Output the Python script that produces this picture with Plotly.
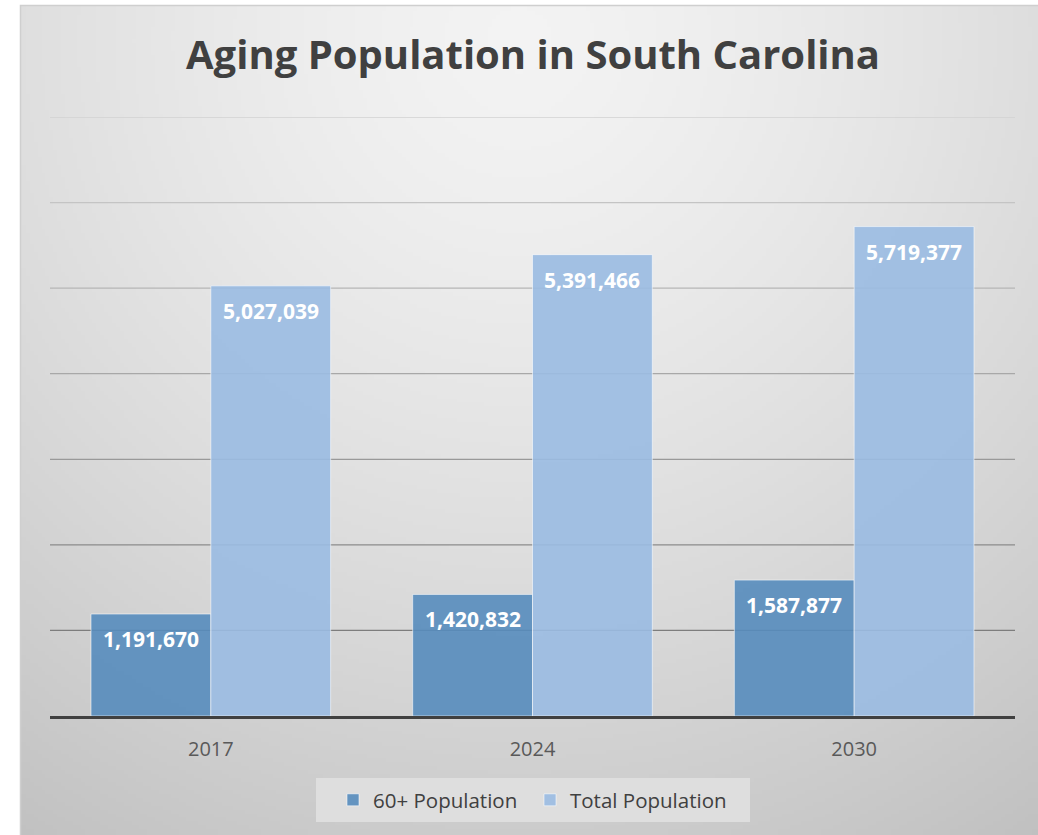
import base64, struct, zlib, math
import plotly.graph_objects as go

# ---- data ----
years = ["2017", "2024", "2030"]
pop_60_plus = [1191670, 1420832, 1587877]
pop_total = [5027039, 5391466, 5719377]
series_names = ["60+ Population", "Total Population"]

# ---- figure geometry ----
W, H = 1038, 835
L = 50
T = 117
B = H - 716
R = W - 1015
plot_w = W - L - R
plot_h = H - T - B
bargap = 0.255


def px_to_paper_x(px):
    return (px - L) / plot_w


def px_to_paper_y(py):
    return (H - B - py) / plot_h


# ---- gradient background image (pure python PNG) ----
def make_gradient_png(iw=260, ih=210):
    cx, cy = 519.0, 40.0
    x0, y0, x1, y1 = 20.0, 5.0, 1038.0, 835.0
    dmax = 938.0
    rows = []
    for j in range(ih):
        py = y0 + (j + 0.5) * (y1 - y0) / ih
        row = bytearray([0])
        for i in range(iw):
            px = x0 + (i + 0.5) * (x1 - x0) / iw
            d = math.hypot(px - cx, py - cy) / dmax
            v = 243 - 50 * (d ** 1.4)
            v = max(0, min(255, int(round(v))))
            row.append(v)
        rows.append(bytes(row))
    raw = b"".join(rows)

    def chunk(tag, data):
        c = struct.pack(">I", len(data)) + tag + data
        return c + struct.pack(">I", zlib.crc32(tag + data) & 0xFFFFFFFF)

    png = b"\x89PNG\r\n\x1a\n"
    png += chunk(b"IHDR", struct.pack(">IIBBBBB", iw, ih, 8, 0, 0, 0, 0))
    png += chunk(b"IDAT", zlib.compress(raw, 9))
    png += chunk(b"IEND", b"")
    return "data:image/png;base64," + base64.b64encode(png).decode()


bg_src = make_gradient_png()

fig = go.Figure()

fig.add_trace(go.Bar(
    x=years, y=pop_60_plus, name=series_names[0],
    marker=dict(color="rgba(86,140,189,0.9)",
                line=dict(color="rgba(255,255,255,0.55)", width=1)),
    hoverinfo="x+y",
))
fig.add_trace(go.Bar(
    x=years, y=pop_total, name=series_names[1],
    marker=dict(color="rgba(154,187,226,0.9)",
                line=dict(color="rgba(255,255,255,0.55)", width=1)),
    hoverinfo="x+y",
))

# data labels as annotations placed via the axis scales
annotations = []
for k, vals in enumerate([pop_60_plus, pop_total]):
    off = (k - 0.5) * (1 - bargap) / 2
    for i, v in enumerate(vals):
        annotations.append(dict(
            x=i + off, y=v, xref="x", yref="y",
            text=f"{v:,}", showarrow=False,
            yanchor="middle", yshift=-25,
            font=dict(family="Open Sans", size=21, color="white", weight="bold"),
        ))

# gridlines with a top-to-bottom fading colour
grid_levels = [1e6 * n for n in range(1, 8)]
shapes = []
for n, g in enumerate(grid_levels):
    t = n / (len(grid_levels) - 1)
    c = int(round(125 + t * (210 - 125)))
    shapes.append(dict(
        type="line", xref="paper", yref="y", x0=0, x1=1, y0=g, y1=g,
        line=dict(color=f"rgb({c},{c},{c})", width=1.3), layer="below",
    ))

# white page strips (left and top) outside the chart area
shapes.append(dict(
    type="rect", xref="paper", yref="paper",
    x0=px_to_paper_x(-10), x1=px_to_paper_x(20), y0=px_to_paper_y(860), y1=px_to_paper_y(-10),
    line=dict(width=0), fillcolor="white", layer="below",
))
shapes.append(dict(
    type="rect", xref="paper", yref="paper",
    x0=px_to_paper_x(-10), x1=px_to_paper_x(1060), y0=px_to_paper_y(5), y1=px_to_paper_y(-10),
    line=dict(width=0), fillcolor="white", layer="below",
))
# outer chart border
shapes.append(dict(
    type="rect", xref="paper", yref="paper",
    x0=px_to_paper_x(20.5), x1=px_to_paper_x(1060), y0=px_to_paper_y(860), y1=px_to_paper_y(5.5),
    line=dict(color="#cfcfcf", width=1.5), fillcolor="rgba(0,0,0,0)", layer="below",
))
# legend box
shapes.append(dict(
    type="rect", xref="paper", yref="paper",
    x0=px_to_paper_x(316), x1=px_to_paper_x(750), y0=px_to_paper_y(822), y1=px_to_paper_y(778),
    line=dict(width=0), fillcolor="#dedede", layer="below",
))

fig.update_layout(
    width=W, height=H,
    margin=dict(l=L, r=R, t=T, b=B),
    paper_bgcolor="#c9c9c9",
    plot_bgcolor="rgba(0,0,0,0)",
    barmode="group", bargap=bargap, bargroupgap=0,
    title=dict(
        text="Aging Population in South Carolina",
        x=px_to_paper_x(533), xref="paper", xanchor="center",
        y=1 - 55 / H, yref="container", yanchor="middle",
        font=dict(family="Open Sans", size=40, color="#404040", weight="bold"),
    ),
    xaxis=dict(
        type="category", showgrid=False, zeroline=False,
        showline=True, linecolor="#404040", linewidth=3,
        ticks="", ticklabelstandoff=13,
        tickfont=dict(family="Open Sans", size=20, color="#595959"),
    ),
    yaxis=dict(
        range=[0, 7e6], showgrid=False, zeroline=False,
        showticklabels=False, ticks="", fixedrange=True,
    ),
    legend=dict(
        orientation="h", x=px_to_paper_x(333), xanchor="left",
        y=px_to_paper_y(800), yanchor="middle",
        bgcolor="rgba(0,0,0,0)", borderwidth=0,
        font=dict(family="Open Sans", size=20.5, color="#404040"),
        itemwidth=30, traceorder="normal", entrywidth=152,
    ),
    images=[dict(
        source=bg_src, xref="paper", yref="paper",
        x=px_to_paper_x(20), y=px_to_paper_y(5),
        sizex=(1038 - 20) / plot_w, sizey=(835 - 5) / plot_h,
        xanchor="left", yanchor="top", sizing="stretch", layer="below",
    )],
    annotations=annotations,
    shapes=shapes,
    showlegend=True,
)

fig.write_html(
    "out.html",
    config={"displayModeBar": False},
    post_script=(
        "document.body.style.margin='0px';"
        "document.body.style.overflow='hidden';"
        "document.documentElement.style.background='#c9c9c9';"
    ),
)
